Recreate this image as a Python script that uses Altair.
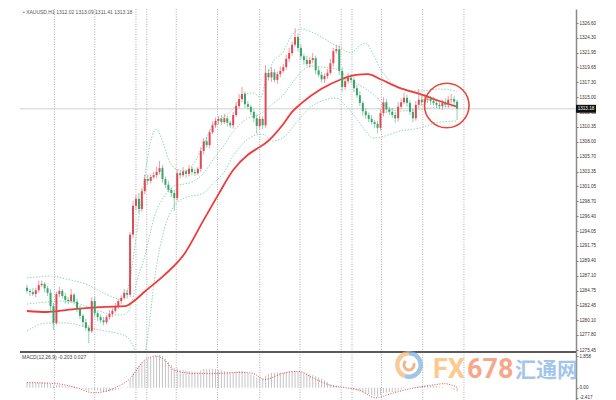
import altair as alt
import pandas as pd

# ---------------- data ----------------
closes = [
    1284.7, 1284.5, 1284.2, 1284.8, 1285.6, 1285.8, 1285.1, 1284.4, 1282.3, 1279.7,
    1284.2, 1284.7, 1283.9, 1283.3, 1283.1, 1284.1, 1283.0, 1282.0, 1280.8, 1279.8,
    1278.9, 1278.4, 1283.1, 1281.2, 1280.6, 1280.1, 1279.8, 1280.6, 1281.1, 1281.6,
    1282.3, 1283.1, 1283.6, 1284.4, 1284.1, 1293.5, 1298.0, 1299.1, 1297.5, 1300.3,
    1302.2, 1301.9, 1302.5, 1302.8, 1303.3, 1303.9, 1302.2, 1301.3, 1300.5, 1300.0,
    1299.2, 1303.1, 1302.8, 1303.4, 1303.0, 1303.8, 1303.3, 1303.1, 1303.8, 1306.6,
    1308.1, 1307.5, 1309.5, 1310.6, 1311.3, 1311.6, 1311.1, 1311.7, 1311.0, 1310.6,
    1312.2, 1313.6, 1314.7, 1315.5, 1313.9, 1313.5, 1312.7, 1311.7, 1310.5, 1311.6,
    1310.6, 1318.8, 1318.1, 1318.9, 1317.7, 1318.6, 1319.1, 1319.7, 1321.0, 1321.9,
    1323.2, 1324.4, 1322.7, 1321.4, 1320.8, 1320.2, 1320.8, 1321.1, 1319.2, 1318.5,
    1317.8, 1318.3, 1318.8, 1320.3, 1322.2, 1322.5, 1319.1, 1316.6, 1317.5, 1318.0,
    1317.7, 1316.4, 1315.3, 1314.1, 1312.8, 1312.2, 1311.6, 1311.1, 1310.8, 1310.2,
    1312.5, 1314.2, 1313.1, 1312.7, 1312.2, 1311.7, 1313.5, 1314.2, 1314.9, 1314.1,
    1312.7, 1311.7, 1313.8, 1314.6, 1314.2, 1314.6, 1314.7, 1314.4, 1314.1, 1313.8,
    1313.6, 1314.1, 1313.8, 1314.6, 1314.7, 1314.3, 1313.18,
]
first_open = 1285.2
upper_wick = [
    0.5, 0.3, 0.6, 0.4, 0.7, 0.5, 0.3, 0.4, 0.6, 0.5,
    0.4, 0.6, 0.3, 0.5, 0.4, 0.9, 0.3, 0.5, 0.4, 0.3,
    0.5, 0.4, 0.6, 0.7, 0.3, 0.4, 0.5, 0.3, 0.6, 0.4,
    0.5, 0.3, 0.4, 0.6, 0.5, 0.4, 0.8, 0.6, 0.9, 0.5,
    0.7, 0.6, 0.4, 0.5, 0.8, 1.1, 0.5, 0.4, 0.6, 0.3,
    0.5, 0.6, 0.4, 0.7, 0.3, 0.6, 0.4, 0.5, 0.3, 0.6,
    0.5, 0.7, 0.4, 0.6, 0.5, 0.4, 0.6, 0.7, 0.4, 0.3,
    0.5, 0.6, 0.8, 1.1, 0.4, 0.5, 0.3, 0.4, 0.6, 0.5,
    0.4, 1.2, 0.6, 0.8, 0.5, 0.4, 0.7, 0.5, 0.6, 0.8,
    0.5, 1.4, 0.6, 0.5, 0.4, 0.7, 0.5, 0.8, 0.4, 0.6,
    0.5, 0.4, 0.6, 0.7, 0.5, 0.7, 0.6, 0.5, 0.4, 0.8,
    0.6, 0.4, 0.5, 0.6, 0.3, 0.5, 0.4, 0.6, 0.3, 0.5,
    0.6, 0.8, 0.5, 0.4, 0.6, 0.5, 0.7, 0.6, 0.8, 0.5,
    0.4, 0.5, 0.6, 1.7, 0.7, 0.8, 0.6, 0.5, 0.7, 0.4,
    0.6, 0.5, 0.7, 0.6, 0.8, 0.5, 0.3,
]
lower_wick = [
    0.4, 0.6, 0.3, 0.5, 0.4, 0.3, 0.6, 0.5, 0.7, 1.1,
    0.3, 0.5, 0.4, 0.6, 0.5, 0.3, 0.4, 0.6, 0.5, 0.7,
    0.4, 1.9, 0.3, 0.5, 0.6, 0.4, 0.5, 0.3, 0.4, 0.5,
    0.3, 0.4, 0.5, 0.3, 0.6, 0.4, 0.5, 0.7, 0.6, 0.4,
    0.5, 0.6, 0.4, 0.3, 0.5, 0.4, 0.6, 0.5, 0.4, 0.6,
    2.0, 0.4, 0.5, 0.3, 0.6, 0.4, 0.5, 0.4, 0.3, 0.5,
    0.6, 0.4, 0.5, 0.3, 0.4, 0.6, 0.5, 0.3, 0.6, 0.4,
    0.5, 0.3, 0.4, 0.5, 0.6, 0.4, 0.5, 0.6, 1.2, 0.5,
    0.6, 0.4, 0.5, 0.7, 0.4, 0.6, 0.5, 0.3, 0.4, 0.5,
    0.4, 0.3, 0.6, 0.5, 0.7, 0.4, 0.6, 0.5, 0.6, 0.4,
    0.5, 0.6, 0.4, 0.3, 0.5, 0.4, 0.6, 0.7, 0.5, 0.4,
    0.5, 0.6, 0.4, 0.5, 0.7, 0.6, 0.5, 0.4, 0.6, 0.8,
    0.4, 0.5, 0.6, 0.5, 0.4, 0.7, 0.5, 0.4, 0.3, 0.6,
    0.5, 0.6, 0.4, 0.5, 0.6, 0.4, 0.5, 0.6, 0.4, 0.5,
    0.5, 0.6, 0.4, 0.5, 0.6, 0.5, 1.77,
]

ma_idx = [0, 6.7, 13.3, 20, 26.7, 33.3, 36, 40, 46.7, 53.3, 60, 65, 70, 75, 78.3, 80.7,
          83.3, 86.7, 90, 93.3, 100, 106.7, 111.7, 115.7, 120, 126.7, 133.3, 140, 146]
ma_val = [1281.55, 1281.4, 1281.7, 1282.0, 1282.2, 1282.3, 1283.0, 1284.6, 1287.2, 1290.4,
          1295.8, 1299.8, 1303.6, 1306.0, 1307.0, 1307.7, 1308.8, 1310.6, 1312.7, 1314.1,
          1316.3, 1317.8, 1318.5, 1318.6, 1317.8, 1316.4, 1315.5, 1314.4, 1313.5]

bb_up_idx = [0, 8.3, 13.3, 20, 26.7, 31.7, 34, 35.7, 37.3, 40, 42, 44, 46, 48.3, 50.7, 54,
             56.7, 60, 63.3, 67.3, 70.7, 73.3, 76.7, 79.3, 81, 83.3, 86.7, 90, 93.3, 96.7,
             100, 103.3, 106.7, 110, 112.3, 115, 117.3, 120, 123.3, 126.7, 133.3, 140, 146]
bb_up_val = [1286.71, 1287.02, 1286.55, 1285.77, 1284.21, 1283.43, 1284.68, 1288.59, 1294.06,
             1302.66, 1308.14, 1310.01, 1308.14, 1305.01, 1303.76, 1303.45, 1304.70, 1307.67,
             1310.80, 1312.05, 1313.61, 1315.49, 1315.64, 1315.02, 1317.52, 1320.34, 1321.90,
             1324.72, 1325.65, 1325.18, 1324.40, 1323.46, 1322.68, 1321.90, 1322.84, 1323.46,
             1321.90, 1319.40, 1317.52, 1316.43, 1315.96, 1316.27, 1315.96]
bb_mid_idx = [0, 13.3, 20, 26.7, 31.7, 34, 35.7, 37.3, 40, 43.3, 46.7, 50, 53.3, 56.7, 60,
              63.3, 66.7, 70.7, 75, 78.3, 80.7, 83.3, 86.7, 90, 93.3, 96.7, 100, 105, 108.3,
              111.7, 115, 118.3, 121.7, 126.7, 133.3, 140, 146]
bb_mid_val = [1282.64, 1283.11, 1282.33, 1281.24, 1280.92, 1281.24, 1283.11, 1286.24, 1290.15,
              1296.41, 1299.54, 1301.10, 1301.41, 1301.88, 1303.13, 1305.32, 1307.36, 1310.01,
              1311.73, 1312.20, 1312.83, 1313.92, 1315.18, 1317.21, 1319.09, 1319.87, 1319.71,
              1319.40, 1318.30, 1317.21, 1316.27, 1315.18, 1313.61, 1312.83, 1313.14, 1313.46,
              1313.61]
bb_lo_idx = [0, 6.7, 13.3, 20, 26.7, 31.7, 34, 35.7, 37.3, 38.7, 40.3, 41.5, 43.3, 46.7, 50,
             53.3, 60, 63.3, 66.7, 70, 75, 80, 83.3, 86.7, 90, 93.3, 96.7, 100, 105, 108.3,
             111.7, 115, 117.3, 120, 126.7, 133.3, 140, 146]
bb_lo_val = [1278.42, 1279.67, 1279.67, 1279.05, 1278.42, 1277.95, 1277.5, 1276.4, 1274.8,
             1274.3, 1275.6, 1279.5, 1286.5, 1294.5, 1298.0, 1299.2, 1300.0, 1301.57, 1303.13,
             1305.79, 1308.45, 1309.23, 1308.14, 1308.61, 1310.17, 1312.05, 1313.61, 1314.39,
             1314.86, 1313.61, 1311.73, 1309.70, 1308.61, 1308.76, 1309.70, 1310.17, 1311.11,
             1311.26]

sep_idx = [9.33, 23, 37, 40.67, 50.67, 64.67, 79, 92.67, 106.67, 110.33, 120.33, 134.33, 148.33]

price_ticks = [1326.60, 1324.30, 1321.95, 1319.65, 1317.30, 1315.00, 1312.65, 1310.35, 1308.00,
               1305.70, 1303.35, 1301.05, 1298.70, 1296.40, 1294.05, 1291.75, 1289.40, 1287.10,
               1284.75, 1282.45, 1280.10, 1277.80, 1275.45]
last_price = 1313.18
circle_center = (142.5, 1313.7)

macd_hist = [
    0.30, 0.30, 0.29, 0.29, 0.30, 0.31, 0.30, 0.28, 0.22, 0.12,
    0.14, 0.15, 0.13, 0.10, 0.08, 0.08, 0.06, 0.03, -0.02, -0.07,
    -0.13, -0.18, -0.12, -0.14, -0.18, -0.22, -0.25, -0.24, -0.21, -0.18,
    -0.14, -0.09, -0.04, 0.01, 0.04, 0.45, 0.85, 1.12, 1.25, 1.42,
    1.55, 1.62, 1.70, 1.76, 1.81, 1.86, 1.80, 1.66, 1.48, 1.30,
    1.12, 1.10, 1.04, 1.00, 0.96, 0.95, 0.93, 0.90, 0.90, 0.98,
    1.06, 1.05, 1.08, 1.08, 1.06, 1.02, 0.98, 0.95, 0.91, 0.86,
    0.88, 0.92, 0.95, 0.96, 0.90, 0.84, 0.76, 0.68, 0.58, 0.55,
    0.50, 0.70, 0.78, 0.84, 0.85, 0.86, 0.86, 0.87, 0.90, 0.93,
    0.95, 0.98, 0.92, 0.88, 0.85, 0.82, 0.78, 0.72, 0.66, 0.60,
    0.52, 0.42, 0.32, 0.20, 0.15, 0.12, 0.05, 0.00, -0.03, -0.05,
    -0.08, -0.12, -0.16, -0.22, -0.28, -0.33, -0.38, -0.42, -0.46, -0.48,
    -0.40, -0.30, -0.27, -0.25, -0.24, -0.24, -0.16, -0.09, -0.02, 0.00,
    0.00, -0.02, 0.04, 0.08, 0.10, 0.12, 0.13, 0.12, 0.10, 0.08,
    0.05, 0.04, 0.00, -0.02, -0.06, -0.12, -0.20,
]
sig_idx = [0, 10, 16.7, 22.7, 30, 35, 40, 44, 46.7, 50, 56.7, 63.3, 73.3, 76.7, 80.7, 86.7,
           92.3, 96.7, 103.3, 108.3, 113.3, 118.3, 123.3, 130, 136.7, 141.7, 146]
sig_val = [0.29, 0.23, 0.0, -0.29, 0.0, 0.52, 1.57, 1.80, 1.57, 0.99, 0.81, 0.81, 0.87, 0.81,
           0.47, 0.81, 0.93, 0.58, 0.12, 0.0, -0.17, -0.58, -0.35, -0.06, 0.12, 0.23, 0.03]

header_text = "\u2022 XAUUSD,H1  1312.02 1313.09 1311.41 1313.18"
macd_text = "MACD(12,26,9) -0.203 0.027"

# ---------------- tables ----------------
opens = [first_open] + closes[:-1]
candles = pd.DataFrame({
    "i": list(range(len(closes))),
    "o": opens,
    "c": closes,
})
candles["h"] = [max(o, c) + u for o, c, u in zip(opens, closes, upper_wick)]
candles["l"] = [min(o, c) - d for o, c, d in zip(opens, closes, lower_wick)]
candles["dir"] = ["up" if c >= o else "down" for o, c in zip(opens, closes)]

bands = pd.concat([
    pd.DataFrame({"i": bb_up_idx, "v": bb_up_val, "band": "up"}),
    pd.DataFrame({"i": bb_mid_idx, "v": bb_mid_val, "band": "mid"}),
    pd.DataFrame({"i": bb_lo_idx, "v": bb_lo_val, "band": "lo"}),
])
ma = pd.DataFrame({"i": ma_idx, "v": ma_val})
seps = pd.DataFrame({"i": sep_idx})
lastdf = pd.DataFrame({"v": [last_price], "v1": [last_price + 0.62], "v2": [last_price - 0.62],
                       "t": [f"{last_price:.2f}"]})
circ = pd.DataFrame({"i": [circle_center[0]], "v": [circle_center[1]]})
hist = pd.DataFrame({"i": list(range(len(macd_hist))), "m": macd_hist, "z": 0.0})
sig = pd.DataFrame({"i": sig_idx, "m": sig_val})
one = pd.DataFrame({"a": [0]})

W = 556
H_MAIN = 343
H_MACD = 49
XDOM = [-0.667, 184.667]
YDOM = [1275.14, 1328.79]
MDOM = [-0.756, 2.03]

xs = alt.Scale(domain=XDOM, nice=False, zero=False)
ys = alt.Scale(domain=YDOM, nice=False, zero=False)
ms = alt.Scale(domain=MDOM, nice=False, zero=False)
X = alt.X("i:Q", scale=xs, axis=None)

UP, DOWN = "#e04a55", "#38a56c"
dir_color = alt.Color("dir:N", scale=alt.Scale(domain=["up", "down"], range=[UP, DOWN]),
                      legend=None)

price_axis = alt.Axis(orient="right", values=price_ticks, format=".2f", labelFontSize=4.6,
                      labelColor="#333", tickSize=2, tickColor="#777", labelPadding=1,
                      domainColor="#8a8a8a", domainWidth=1.5, labelOverlap=False,
                      labelFlush=False, grid=False, title=None, labelFont="Liberation Sans")


def PY(field):
    return alt.Y(field, scale=ys, axis=price_axis, title=None)


sep_layer = alt.Chart(seps).mark_rule(color="#9a9a9a", strokeDash=[1, 1.5],
                                      strokeWidth=0.8).encode(x=X)

price_line = alt.Chart(lastdf).mark_rule(color="#cfcfcf", strokeWidth=1).encode(y=PY("v:Q"))

band_layer = alt.Chart(bands).mark_line(color="#86d3ad", strokeDash=[1.5, 1.5],
                                        strokeWidth=0.9, interpolate="monotone",
                                        clip=True).encode(
    x=X, y=PY("v:Q"), detail="band:N")

ma_layer = alt.Chart(ma).mark_line(color="#f03a3a", strokeWidth=1.8,
                                   interpolate="monotone").encode(x=X, y=PY("v:Q"))

wicks = alt.Chart(candles).mark_rule(strokeWidth=1, opacity=0.55).encode(
    x=X, y=PY("l:Q"), y2="h:Q", color=dir_color)

bodies = alt.Chart(candles).mark_bar(width=2).encode(
    x=X, y=PY("o:Q"), y2="c:Q", color=dir_color)

ring = alt.Chart(circ).mark_point(shape="circle", size=1980, filled=False,
                                  color="#e8453c", strokeWidth=1.6, opacity=1).encode(
    x=X, y=PY("v:Q"))

header = alt.Chart(one).mark_text(text=header_text, fontSize=5, color="#555", align="left",
                                  baseline="middle", font="Liberation Sans").encode(
    x=alt.value(3), y=alt.value(3))

tag_box = alt.Chart(lastdf).mark_rect(color="#111").encode(
    x=alt.value(556), x2=alt.value(576), y=PY("v1:Q"), y2="v2:Q")
tag_txt = alt.Chart(lastdf).mark_text(fontSize=4.6, color="white", baseline="middle",
                                      align="center", font="Liberation Sans").encode(
    x=alt.value(566), y=PY("v:Q"), text="t:N")

main = alt.layer(sep_layer, price_line, band_layer, ma_layer, wicks, bodies, ring,
                 header, tag_box, tag_txt).properties(width=W, height=H_MAIN)

# ---------------- MACD panel ----------------
macd_axis = alt.Axis(orient="right", values=[1.78, 0, -0.58], labelFontSize=4.6,
                     labelColor="#333", tickSize=2, tickColor="#777", labelPadding=1,
                     domainColor="#8a8a8a", domainWidth=1.5, labelOverlap=False,
                     labelFlush=False, grid=False, title=None, labelFont="Liberation Sans",
                     labelExpr="datum.value == 0 ? '0.00' : (datum.value > 1 ? '1.858' : '-2.417')")


def MY(field):
    return alt.Y(field, scale=ms, axis=macd_axis, title=None)


hist_layer = alt.Chart(hist).mark_bar(width=1, color="#c4c4c4").encode(
    x=X, y=MY("m:Q"), y2="z:Q")
sig_layer = alt.Chart(sig).mark_line(color="#e0504a", strokeDash=[1, 1.5], strokeWidth=1,
                                     interpolate="monotone").encode(x=X, y=MY("m:Q"))
sep2 = alt.Chart(seps).mark_rule(color="#9a9a9a", strokeDash=[1, 1.5],
                                 strokeWidth=0.8).encode(x=X)
divider = alt.Chart(one).mark_rule(color="#5a5a5a", strokeWidth=2.2).encode(y=alt.value(0))
macd_lbl = alt.Chart(one).mark_text(text=macd_text, fontSize=5, color="#444", align="left",
                                    baseline="middle", font="Liberation Sans").encode(
    x=alt.value(2), y=alt.value(5))

# watermark (decoration)
wm_arc1 = alt.Chart(one).mark_arc(theta=0, theta2=3.5, radius=14, radius2=9.5,
                                  color="#7fb2e3", opacity=0.75).encode(
    x=alt.value(389), y=alt.value(13))
wm_arc2 = alt.Chart(one).mark_arc(theta=3.5, theta2=6.283, radius=14, radius2=9.5,
                                  color="#f6b877", opacity=0.75).encode(
    x=alt.value(389), y=alt.value(13))
wm_arc3 = alt.Chart(one).mark_arc(theta=1.2, theta2=5.6, radius=6.5, radius2=3.5,
                                  color="#f39a5c", opacity=0.75).encode(
    x=alt.value(389), y=alt.value(13))
wm_fx = alt.Chart(one).mark_text(text="FX", fontSize=27, fontWeight="bold", font="Roboto",
                                 color="#f8c37e", opacity=0.85, align="left",
                                 baseline="alphabetic").encode(
    x=alt.value(413), y=alt.value(26))
wm_num = alt.Chart(one).mark_text(text="678", fontSize=27, fontWeight="bold", font="Roboto",
                                  color="#f4926f", opacity=0.8, align="left",
                                  baseline="alphabetic").encode(
    x=alt.value(447), y=alt.value(26))
wm_cn = alt.Chart(one).mark_text(text="汇通网", fontSize=21, fontWeight="bold",
                                 font="Noto Sans CJK SC", color="#8cb9e7", opacity=0.8,
                                 align="left", baseline="alphabetic").encode(
    x=alt.value(495), y=alt.value(25))

macd = alt.layer(sep2, hist_layer, sig_layer, divider, macd_lbl,
                 wm_arc1, wm_arc2, wm_arc3, wm_fx, wm_num, wm_cn).properties(
    width=W, height=H_MACD)

chart = alt.vconcat(main, macd, spacing=0, bounds="flush").properties(
    padding={"left": 10, "top": 0, "right": 0, "bottom": 0},
    background="white",
).configure_view(stroke=None)

chart.save("out.html", embed_options={"renderer": "svg", "actions": False})
